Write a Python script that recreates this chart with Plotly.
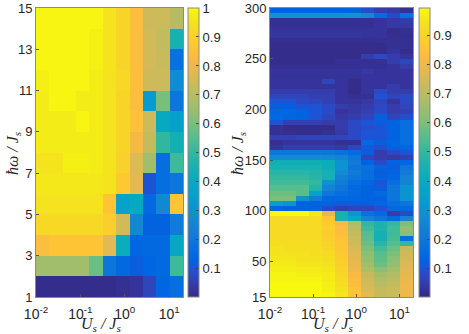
import plotly.graph_objects as go

# x bin edges (log spaced), same for both panels
us_edges = [0.01, 0.02, 0.04, 0.08, 0.16, 0.32, 0.64, 1.28, 2.56, 5.12, 10.24, 20.48]

# left panel: omega bins 1..15, rows from bottom to top
left_edges = [1, 2, 3, 4, 5, 6, 7, 8, 9, 10, 11, 12, 13, 14, 15]
left_z = [
    [.01, .01, .01, .01, .01, .01, .02, .03, .07, .14, .17],
    [.66, .66, .66, .66, .58, .20, .15, .12, .14, .15, .52],
    [.84, .86, .86, .86, .86, .78, .42, .14, .15, .15, .38],
    [.92, .92, .92, .92, .92, .89, .75, .27, .13, .13, .22],
    [.95, .95, .95, .95, .95, .86, .36, .40, .15, .27, .86],
    [.96, .96, .96, .96, .96, .95, .88, .78, .10, .17, .20],
    [.95, .95, .98, .98, .97, .95, .90, .77, .66, .17, .52],
    [.97, .97, .97, .97, .97, .95, .91, .82, .72, .50, .44],
    [.97, .97, .97, .99, .97, .95, .91, .85, .74, .40, .35],
    [.97, .99, .99, .97, .97, .95, .91, .84, .33, .60, .20],
    [.98, .99, .99, .99, .97, .95, .92, .84, .74, .74, .28],
    [.99, .99, .99, .99, .98, .95, .91, .84, .75, .73, .18],
    [.99, .99, .99, .99, .98, .95, .91, .84, .75, .72, .45],
    [.99, .99, .99, .99, .99, .95, .91, .84, .74, .74, .70],
]

# right panel: omega bins 15..300 in steps of 5, rows from top to bottom
right_edges = list(range(300, 10, -5))
right_z = [
    [.13, .13, .13, .13, .13, .13, .13, .09, .05, .04, .02],
    [.30, .30, .30, .30, .30, .30, .30, .27, .16, .08, .18],
    [.02, .02, .02, .02, .02, .02, .02, .02, .03, .04, .05],
    [.02, .02, .02, .02, .02, .02, .02, .02, .03, .04, .04],
    [.03, .03, .03, .03, .03, .03, .03, .03, .03, .01, .02],
    [.035, .035, .035, .035, .035, .035, .035, .03, .03, .015, .015],
    [.015, .015, .015, .015, .015, .015, .015, .015, .02, .02, .02],
    [.01, .01, .01, .01, .01, .01, .01, .01, .01, .02, .02],
    [.01, .01, .01, .01, .01, .01, .01, .01, .01, .03, .01],
    [.01, .01, .01, .01, .01, .01, .01, .05, .08, .05, .03],
    [.01, .01, .01, .01, .01, .02, .02, .02, .02, .05, .07],
    [.02, .02, .02, .02, .02, .02, .02, .02, .02, .03, .05],
    [.03, .03, .03, .03, .03, .03, .03, .04, .03, .03, .03],
    [.025, .025, .025, .025, .025, .025, .025, .03, .03, .03, .03],
    [.03, .03, .03, .03, .07, .03, .01, .03, .03, .03, .03],
    [.03, .03, .03, .03, .03, .03, .01, .03, .03, .05, .03],
    [.05, .05, .05, .05, .05, .03, .01, .03, .08, .05, .05],
    [.07, .07, .07, .06, .06, .03, .02, .02, .10, .07, .08],
    [.10, .10, .08, .07, .06, .03, .03, .04, .07, .03, .08],
    [.12, .12, .10, .10, .08, .05, .04, .05, .08, .05, .07],
    [.14, .14, .13, .10, .08, .03, .04, .06, .08, .05, .06],
    [.15, .14, .13, .10, .07, .04, .05, .07, .12, .07, .09],
    [.10, .06, .06, .06, .05, .05, .08, .10, .12, .13, .17],
    [.02, .01, .01, .01, .01, .05, .08, .09, .10, .13, .17],
    [.02, .015, .01, .01, .02, .04, .08, .10, .10, .13, .17],
    [.06, .06, .07, .07, .07, .07, .08, .10, .10, .13, .17],
    [.015, .03, .03, .03, .03, .02, .02, .15, .12, .14, .17],
    [.03, .05, .05, .05, .05, .04, .07, .11, .09, .13, .14],
    [.20, .20, .20, .20, .19, .18, .16, .12, .05, .08, .10],
    [.28, .28, .28, .28, .27, .25, .20, .07, .05, .04, .06],
    [.43, .43, .43, .43, .42, .30, .22, .13, .08, .13, .14],
    [.45, .45, .45, .45, .42, .30, .20, .18, .13, .12, .20],
    [.48, .48, .48, .47, .44, .28, .22, .17, .12, .13, .22],
    [.50, .50, .50, .48, .44, .24, .20, .17, .13, .14, .25],
    [.52, .52, .52, .50, .30, .22, .17, .14, .10, .17, .25],
    [.55, .55, .55, .47, .25, .20, .15, .13, .12, .20, .30],
    [.58, .58, .55, .35, .20, .17, .15, .13, .15, .20, .30],
    [.60, .60, .30, .22, .14, .15, .14, .13, .13, .20, .30],
    [.35, .30, .13, .13, .13, .12, .12, .12, .14, .17, .20],
    [.14, .13, .13, .13, .08, .06, .07, .07, .10, .15, .15],
    [.99, .99, .99, .95, .78, .45, .30, .18, .15, .05, .08],
    [.92, .92, .92, .92, .85, .45, .38, .25, .20, .15, .25],
    [.92, .92, .92, .92, .88, .82, .68, .50, .46, .50, .60],
    [.92, .92, .92, .92, .89, .83, .70, .52, .46, .52, .64],
    [.92, .92, .92, .92, .88, .84, .72, .55, .44, .52, .62],
    [.92, .92, .92, .92, .89, .85, .73, .56, .44, .53, .17],
    [.93, .93, .93, .93, .90, .86, .74, .58, .48, .55, .50],
    [.94, .93, .93, .93, .91, .86, .76, .60, .52, .58, .72],
    [.94, .94, .94, .93, .92, .87, .77, .62, .55, .60, .74],
    [.95, .95, .94, .94, .93, .88, .78, .64, .56, .62, .75],
    [.96, .96, .95, .95, .94, .89, .79, .66, .58, .64, .76],
    [.97, .97, .96, .96, .95, .90, .80, .68, .62, .66, .77],
    [.98, .98, .97, .97, .96, .91, .82, .72, .66, .68, .78],
    [.98, .98, .98, .98, .96, .92, .83, .74, .68, .70, .79],
    [.99, .99, .99, .99, .97, .93, .84, .75, .70, .72, .80],
    [.99, .99, .99, .99, .97, .94, .85, .76, .72, .73, .80],
    [.99, .99, .99, .99, .98, .95, .85, .78, .72, .73, .80],
]

x_ticks = [0.01, 0.1, 1, 10]
x_labels = ["10<sup>-2</sup>", "10<sup>-1</sup>", "10<sup>0</sup>", "10<sup>1</sup>"]
left_y_ticks = [1, 3, 5, 7, 9, 11, 13, 15]
right_y_ticks = [15, 50, 100, 150, 200, 250, 300]
left_cb_ticks = [.1, .2, .3, .4, .5, .6, .7, .8, .9, 1]
left_cb_labels = ["0.1", "0.2", "0.3", "0.4", "0.5", "0.6", "0.7", "0.8", "0.9", "1"]
right_cb_ticks = [.1, .2, .3, .4, .5, .6, .7, .8, .9]

# matlab parula, 64 steps
parula_rgb = [
    (.2081, .1663, .5292), (.2116, .1898, .5777), (.2123, .2138, .6270), (.2081, .2386, .6771),
    (.1959, .2645, .7279), (.1707, .2919, .7792), (.1253, .3242, .8303), (.0591, .3598, .8683),
    (.0117, .3875, .8820), (.0060, .4086, .8828), (.0165, .4266, .8786), (.0329, .4430, .8720),
    (.0498, .4586, .8641), (.0629, .4737, .8554), (.0723, .4887, .8467), (.0779, .5040, .8384),
    (.0793, .5200, .8312), (.0749, .5375, .8263), (.0641, .5570, .8240), (.0488, .5772, .8228),
    (.0343, .5966, .8199), (.0265, .6137, .8135), (.0239, .6287, .8038), (.0231, .6418, .7913),
    (.0228, .6535, .7768), (.0267, .6642, .7607), (.0384, .6743, .7436), (.0590, .6838, .7254),
    (.0843, .6928, .7062), (.1133, .7015, .6859), (.1453, .7098, .6646), (.1801, .7177, .6424),
    (.2178, .7250, .6193), (.2586, .7317, .5954), (.3022, .7376, .5712), (.3482, .7424, .5473),
    (.3953, .7459, .5244), (.4420, .7481, .5033), (.4871, .7491, .4840), (.5300, .7491, .4661),
    (.5709, .7485, .4494), (.6099, .7473, .4337), (.6473, .7456, .4188), (.6834, .7435, .4044),
    (.7184, .7411, .3905), (.7525, .7384, .3768), (.7858, .7356, .3633), (.8185, .7327, .3498),
    (.8507, .7299, .3360), (.8824, .7274, .3217), (.9139, .7258, .3063), (.9450, .7261, .2886),
    (.9739, .7314, .2666), (.9938, .7455, .2403), (.9990, .7653, .2164), (.9955, .7861, .1967),
    (.9880, .8066, .1794), (.9789, .8271, .1633), (.9697, .8481, .1475), (.9626, .8705, .1309),
    (.9589, .8949, .1132), (.9598, .9218, .0948), (.9661, .9514, .0755), (.9763, .9831, .0538),
]
parula = [[i / 63, "rgb(%d,%d,%d)" % (r * 255, g * 255, b * 255)]
          for i, (r, g, b) in enumerate(parula_rgb)]

W, H = 469, 334
TOP, BOTTOM = 8, 297
GREY = "#8a8a8a"
TEXT = "#262626"
SANS = "Liberation Sans"
SERIF = "Liberation Serif"


def colorbar(x_px, ticks, labels=None):
    cb = dict(
        x=x_px / W, xanchor="left", xpad=0, ypad=0,
        y=1 - BOTTOM / H, yanchor="bottom",
        lenmode="fraction", len=(BOTTOM - TOP) / H,
        thicknessmode="pixels", thickness=11,
        outlinecolor=GREY, outlinewidth=1,
        ticks="inside", ticklen=3, tickcolor="#444444", tickwidth=1,
        tickvals=ticks,
        tickfont=dict(family=SANS, size=13, color=TEXT),
    )
    if labels:
        cb["ticktext"] = labels
    return cb


def axis_label(text, x_px, y_px, angle=0):
    return dict(
        text=text, xref="paper", yref="paper", x=x_px / W, y=1 - y_px / H,
        xanchor="center", yanchor="middle", showarrow=False, textangle=angle,
        font=dict(family=SERIF, size=16, color=TEXT),
    )


fig = go.Figure()

fig.add_trace(go.Heatmap(
    x=us_edges, y=left_edges, z=left_z,
    colorscale=parula, zmin=0.0025, zmax=1,
    colorbar=colorbar(188, left_cb_ticks, left_cb_labels),
    xaxis="x", yaxis="y",
))
fig.add_trace(go.Heatmap(
    x=us_edges, y=right_edges, z=right_z,
    colorscale=parula, zmin=0.003, zmax=0.9925,
    colorbar=colorbar(418.5, right_cb_ticks),
    xaxis="x2", yaxis="y2",
))

x_common = dict(
    type="log", tickvals=x_ticks, ticktext=x_labels, ticks="inside", ticklen=3,
    tickcolor="#555555", showgrid=False, zeroline=False, tickangle=0,
    showline=True, linecolor=GREY, mirror=True, ticklabelstandoff=4,
    tickfont=dict(family=SANS, size=14, color=TEXT),
)
y_common = dict(
    ticks="inside", ticklen=3, tickcolor="#555555", showgrid=False, zeroline=False,
    showline=True, linecolor=GREY, mirror=True,
    tickfont=dict(family=SANS, size=13, color=TEXT),
)
y_dom = [1 - BOTTOM / H, 1 - TOP / H]

fig.update_layout(
    width=W, height=H,
    margin=dict(l=0, r=0, t=0, b=0, autoexpand=False),
    paper_bgcolor="white", plot_bgcolor="white",
    xaxis=dict(x_common, domain=[36 / W, 183 / W], anchor="y",
               range=[-2, 1.3113]),
    yaxis=dict(y_common, domain=y_dom, anchor="x", range=[1, 15],
               tickvals=left_y_ticks),
    xaxis2=dict(x_common, domain=[270 / W, 413 / W], anchor="y2",
                range=[-2, 1.3113]),
    yaxis2=dict(y_common, domain=y_dom, anchor="x2", range=[15, 300],
                tickvals=right_y_ticks),
    annotations=[
        axis_label("<i>U<sub>s</sub> / J<sub>s</sub></i>", 101, 324),
        axis_label("<i>U<sub>s</sub> / J<sub>s</sub></i>", 333, 324),
        axis_label("<i>ħω / J<sub>s</sub></i>", 13, 153, -90),
        axis_label("<i>ħω / J<sub>s</sub></i>", 238, 153, -90),
    ],
)

# page body has a default 8px margin, drop it so the figure fills the window
fig.write_html("out.html", config={"displayModeBar": False},
               post_script="document.body.style.margin = '0';")
